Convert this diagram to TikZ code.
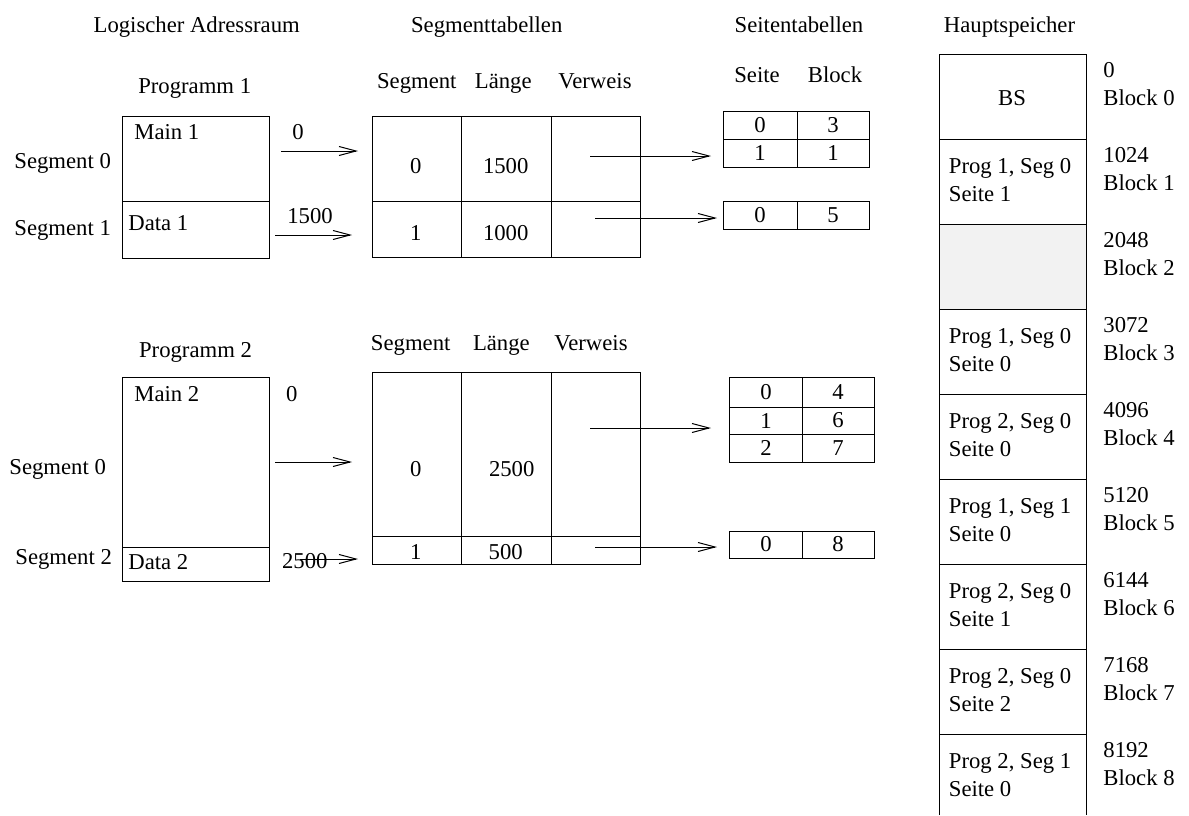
\documentclass[tikz,border=0pt]{standalone}
\usepackage{fontspec}
\setmainfont{Liberation Serif}
\usetikzlibrary{arrows.meta}
\definecolor{lightg}{RGB}{242,242,242}
\begin{document}
\begin{tikzpicture}[x=0.5pt,y=-0.5pt,
  every node/.style={font=\fontsize{11.35pt}{13.6pt}\selectfont, inner sep=0pt},
  lbl/.style={anchor=base},
  lblw/.style={anchor=base west},
  num/.style={anchor=center},
  frame/.style={draw=black, line width=0.5pt},
  arr/.style={draw=black, line width=0.5pt, -{Straight Barb[length=8.5pt,width=4.5pt]}},
]
\useasboundingbox (0,0) rectangle (1189,815);

% titles
\node[lbl] (t1) at (196.7,32) {Logischer Adressraum};
\node[lbl] (t2) at (486.7,32) {Segmenttabellen};
\node[lbl] (t3) at (799,32) {Seitentabellen};
\node[lbl] (t4) at (1009.5,32) {Hauptspeicher};

% ---------- Program 1 ----------
\node[lbl] (p1) at (194.7,93) {Programm 1};
\draw[frame] (122,116) rectangle (269,258);
\draw[frame] (122,201) -- (269,201);
\node[lblw] (m1) at (134,139) {Main 1};
\node[lblw] (d1) at (128,230) {Data 1};
\node[lblw] (s10) at (14,168) {Segment 0};
\node[lblw] (s11) at (14,235) {Segment 1};
\node[lbl] (o10) at (298,139) {0};
\node[lbl] (o11) at (310,223) {1500};
\coordinate (a1s) at (281,151); \coordinate (a1e) at (358,151);
\draw[arr] (a1s) -- (a1e);
\coordinate (a2s) at (275,235); \coordinate (a2e) at (352,235);
\draw[arr] (a2s) -- (a2e);

% segment table 1
\node[lbl] (h1s) at (416.8,88) {Segment};
\node[lbl] (h1l) at (503.3,88) {Länge};
\node[lbl] (h1v) at (595,88) {Verweis};
\draw[frame] (372,116) rectangle (640,257);
\draw[frame] (372,201) -- (640,201);
\draw[frame] (461,116) -- (461,257);
\draw[frame] (551,116) -- (551,257);
\node[num] (st10a) at (415.7,166.5) {0};
\node[num] (st10b) at (505.7,166.5) {1500};
\node[num] (st11a) at (415.7,233) {1};
\node[num] (st11b) at (505.7,233) {1000};
\coordinate (v1s) at (590,156); \coordinate (v1e) at (711,156);
\draw[arr] (v1s) -- (v1e);
\coordinate (v2s) at (595,218); \coordinate (v2e) at (717,218);
\draw[arr] (v2s) -- (v2e);

% page tables 1,2
\node[lbl] (hs) at (757,82) {Seite};
\node[lbl] (hb) at (835,82) {Block};
\draw[frame] (723,111) rectangle (869,167);
\draw[frame] (723,139) -- (869,139);
\draw[frame] (797,111) -- (797,167);
\node[num] (pt1a) at (760,125) {0};
\node[num] (pt1b) at (833,125) {3};
\node[num] (pt1c) at (760,153) {1};
\node[num] (pt1d) at (833,153) {1};
\draw[frame] (723,201) rectangle (869,229);
\draw[frame] (797,201) -- (797,229);
\node[num] (pt2a) at (760,215) {0};
\node[num] (pt2b) at (833,215) {5};

% ---------- Program 2 ----------
\node[lbl] (p2) at (195.5,357) {Programm 2};
\draw[frame] (122,377) rectangle (269,581);
\draw[frame] (122,547) -- (269,547);
\node[lblw] (m2) at (134,401) {Main 2};
\node[lblw] (d2) at (128,569) {Data 2};
\node[lblw] (s20) at (9,474) {Segment 0};
\node[lblw] (s22) at (15,564) {Segment 2};
\node[lbl] (o20) at (291.7,401) {0};
\node[lblw] (o22) at (281.7,568) {2500};
\coordinate (b1s) at (275,462); \coordinate (b1e) at (352,462);
\draw[arr] (b1s) -- (b1e);
\coordinate (b2s) at (300,559); \coordinate (b2e) at (358,559);
\draw[arr] (b2s) -- (b2e);

% segment table 2
\node[lbl] (h2s) at (410.7,350) {Segment};
\node[lbl] (h2l) at (501.4,350) {Länge};
\node[lbl] (h2v) at (591,350) {Verweis};
\draw[frame] (372,372) rectangle (640,564);
\draw[frame] (372,536) -- (640,536);
\draw[frame] (461,372) -- (461,564);
\draw[frame] (551,372) -- (551,564);
\node[num] (st20a) at (415.7,469) {0};
\node[num] (st20b) at (511.7,469) {2500};
\node[num] (st21a) at (415.7,551.7) {1};
\node[num] (st21b) at (505.7,551.7) {500};
\coordinate (w1s) at (590,428); \coordinate (w1e) at (711,428);
\draw[arr] (w1s) -- (w1e);
\coordinate (w2s) at (595,547); \coordinate (w2e) at (717,547);
\draw[arr] (w2s) -- (w2e);

% page tables 3,4
\draw[frame] (729,377) rectangle (874,462);
\draw[frame] (729,407) -- (874,407);
\draw[frame] (729,434) -- (874,434);
\draw[frame] (802,377) -- (802,462);
\node[num] (pt3a) at (766,392) {0};
\node[num] (pt3b) at (838,392) {4};
\node[num] (pt3c) at (766,420.5) {1};
\node[num] (pt3d) at (838,420.5) {6};
\node[num] (pt3e) at (766,448) {2};
\node[num] (pt3f) at (838,448) {7};
\draw[frame] (729,531) rectangle (874,558);
\draw[frame] (802,531) -- (802,558);
\node[num] (pt4a) at (766,544.5) {0};
\node[num] (pt4b) at (838,544.5) {8};

% ---------- main memory ----------
\fill[lightg] (939,224) rectangle (1086,309);
\draw[frame] (939,815) -- (939,54) -- (1086,54) -- (1086,815);
\foreach \yy in {139,224,...,734} \draw[frame] (939,\yy) -- (1086,\yy);
\node[lbl] (bs) at (1012,105) {BS};
\node[lblw] (ad0) at (1103,77) {0};
\node[lblw] (bl0) at (1103,105) {Block 0};
\foreach \k/\adr in {1/1024,2/2048,3/3072,4/4096,5/5120,6/6144,7/7168,8/8192}{
  \node[lblw] (ad\k) at (1103,{54+85*\k+23}) {\adr};
  \node[lblw] (bl\k) at (1103,{54+85*\k+51}) {Block \k};
}
\foreach \k/\pa/\pb in {1/{Prog 1, Seg 0}/{Seite 1},3/{Prog 1, Seg 0}/{Seite 0},4/{Prog 2, Seg 0}/{Seite 0},5/{Prog 1, Seg 1}/{Seite 0},6/{Prog 2, Seg 0}/{Seite 1},7/{Prog 2, Seg 0}/{Seite 2},8/{Prog 2, Seg 1}/{Seite 0}}{
  \node[lblw] (mp\k) at (948.5,{54+85*\k+34}) {\pa};
  \node[lblw] (ms\k) at (948.5,{54+85*\k+62}) {\pb};
}
\end{tikzpicture}
\end{document}
